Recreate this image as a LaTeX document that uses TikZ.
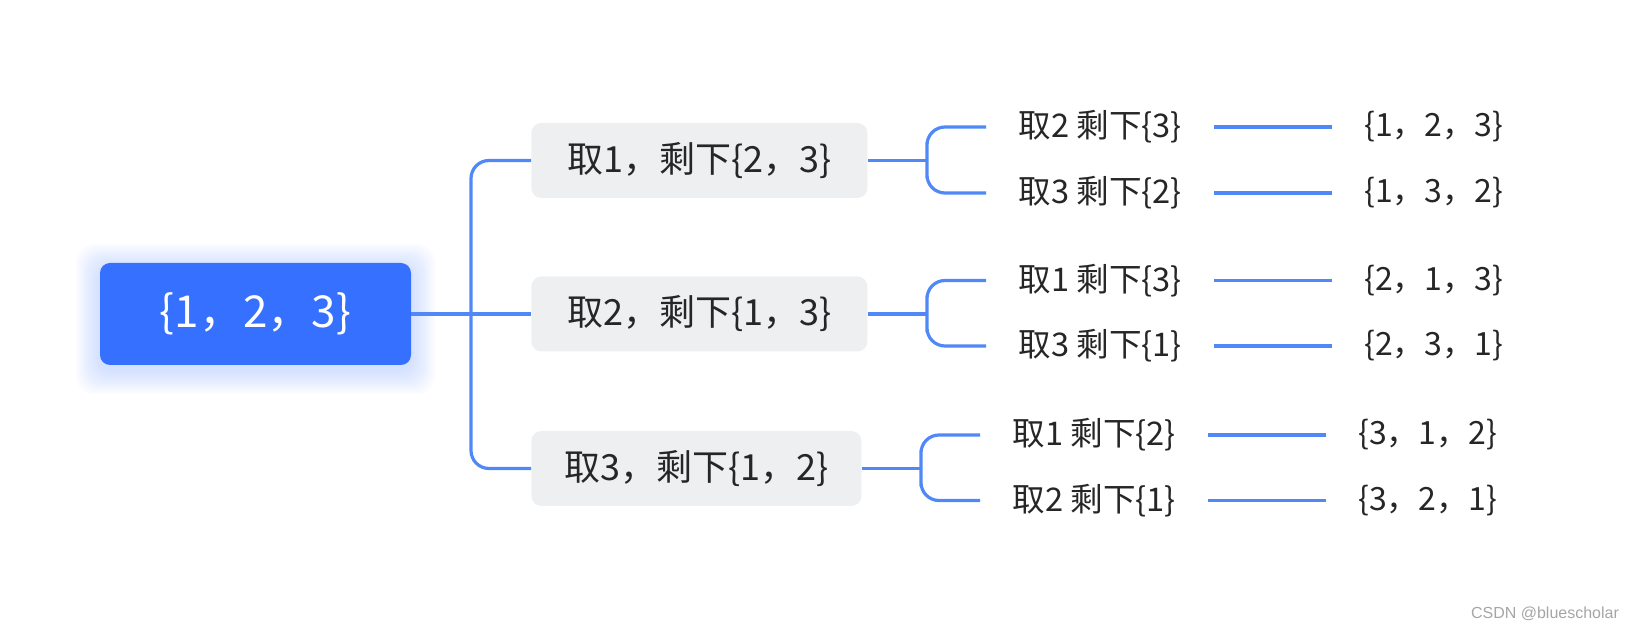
\documentclass[tikz,border=0pt]{standalone}
\usepackage{fontspec}
\setmainfont{Noto Sans CJK SC}
\newfontfamily\markfont{Liberation Sans}
\definecolor{rootblue}{RGB}{54,112,255}
\definecolor{linkblue}{RGB}{80,136,248}
\definecolor{boxgray}{RGB}{238,239,241}
\definecolor{textdark}{RGB}{38,38,38}
\definecolor{markgray}{RGB}{165,165,165}

\begin{document}
\begin{tikzpicture}[x=0.5pt, y=-0.5pt,
    rootbox/.style={fill=rootblue, text=white, rounded corners=5pt,
      minimum width=155.5pt, minimum height=51pt, font=\fontsize{22}{26}\selectfont},
    midbox/.style={fill=boxgray, text=textdark, rounded corners=5pt, anchor=west,
      minimum width=168pt, minimum height=37.5pt, font=\fontsize{18}{21}\selectfont},
    choice/.style={text=textdark, inner xsep=16pt, anchor=west, font=\fontsize{16.3}{19}\selectfont},
    outcome/.style={choice, font=\fontsize{16}{19}\selectfont},
    link/.style={draw=linkblue, line width=1.6pt},
    elbow/.style={link, rounded corners=9pt}]
      \useasboundingbox (0,0) rectangle (1635,630);
      % Draw the glow under the root
      \foreach \g in {1,...,12}
        \fill[rootblue, opacity=0.018, rounded corners=9pt]
          (100-2*\g, 268-2*\g) rectangle (411+2*\g, 370+2*\g);
      % Draw the root and the three picks
      \node[rootbox] (root) at (255.5, 314) {\{1，2，3\}};
      \node[midbox] (b1) at (531, 160.5) {取1，剩下\{2，3\}};
      \node[midbox] (b2) at (531, 314) {取2，剩下\{1，3\}};
      \node[midbox, minimum width=165pt] (b3) at (531, 468.5) {取3，剩下\{1，2\}};
      % Draw the second picks
      \node[choice] (t11) at (986, 127) {取2 剩下\{3\}};
      \node[choice] (t12) at (986, 193) {取3 剩下\{2\}};
      \node[choice] (t21) at (986, 280.5) {取1 剩下\{3\}};
      \node[choice] (t22) at (986, 346) {取3 剩下\{1\}};
      \node[choice] (t31) at (980, 435) {取1 剩下\{2\}};
      \node[choice] (t32) at (980, 500.5) {取2 剩下\{1\}};
      % Draw the permutations
      \node[outcome] (l11) at (1332, 127) {\{1，2，3\}};
      \node[outcome] (l12) at (1332, 193) {\{1，3，2\}};
      \node[outcome] (l21) at (1332, 280.5) {\{2，1，3\}};
      \node[outcome] (l22) at (1332, 346) {\{2，3，1\}};
      \node[outcome] (l31) at (1326, 435) {\{3，1，2\}};
      \node[outcome] (l32) at (1326, 500.5) {\{3，2，1\}};
      % Draw the trunk
      \coordinate (trunk) at (471, 314);
      \draw[link] (root.east) -- (b2.west);
      \draw[elbow] (b1.west) -| (trunk) |- (b3.west);
      % Draw the brackets
      \coordinate (br1) at (927, 160.5);
      \coordinate (br2) at (927, 314);
      \coordinate (br3) at (921, 468.5);
      \draw[link] (b1.east) -- (br1);
      \draw[link] (b2.east) -- (br2);
      \draw[link] (b3.east) -- (br3);
      \draw[elbow] (t11.west) -| (br1) |- (t12.west);
      \draw[elbow] (t21.west) -| (br2) |- (t22.west);
      \draw[elbow] (t31.west) -| (br3) |- (t32.west);
      % Draw the leaf lines
      \draw[link] (t11.east) -- (l11.west);
      \draw[link] (t12.east) -- (l12.west);
      \draw[link] (t21.east) -- (l21.west);
      \draw[link] (t22.east) -- (l22.west);
      \draw[link] (t31.east) -- (l31.west);
      \draw[link] (t32.east) -- (l32.west);
      % Draw the watermark
      \node[text=markgray, font=\markfont\fontsize{8}{10}\selectfont] (wm) at (1545, 614) {CSDN @bluescholar};
    \end{tikzpicture}
\end{document}
